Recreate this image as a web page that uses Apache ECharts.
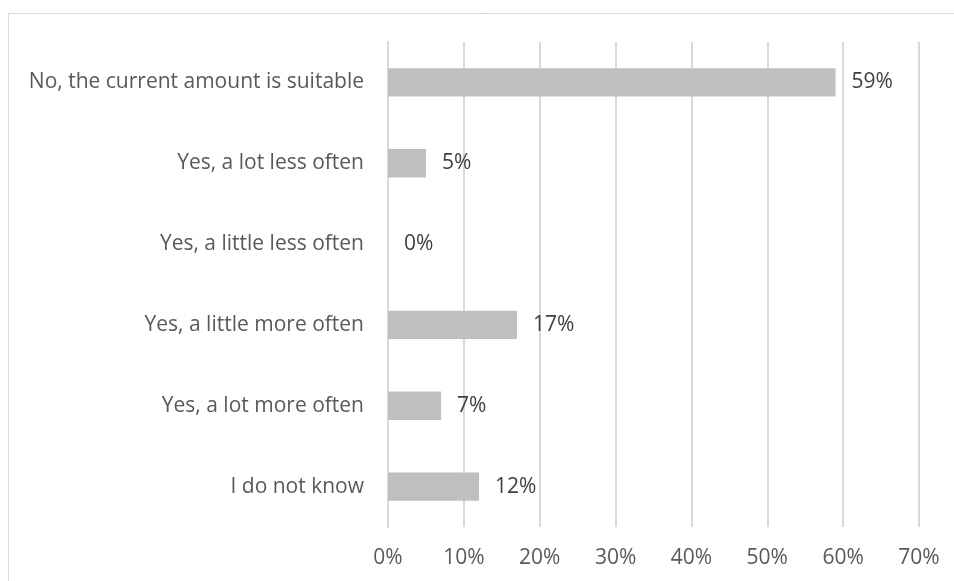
<!DOCTYPE html>
<html>
<head>
<meta charset="utf-8">
<script src="https://cdn.jsdelivr.net/npm/echarts@6/dist/echarts.min.js"></script>
<style>
  html, body { margin: 0; padding: 0; background: #ffffff; }
  #chart { width: 954px; height: 581px; }
</style>
</head>
<body>
<div id="chart"></div>
<script>
// Survey answers, listed top to bottom
const categories = [
  'No, the current amount is suitable',
  'Yes, a lot less often',
  'Yes, a little less often',
  'Yes, a little more often',
  'Yes, a lot more often',
  'I do not know'
];
// Share of respondents per answer (%)
const shares = [59, 5, 0, 17, 7, 12];
// Value axis range (%)
const axisMin = 0;
const axisMax = 70;
const axisStep = 10;

const FONT = '"Open Sans", sans-serif';
const FONT_SIZE = 21;

const chart = echarts.init(document.getElementById('chart'), null, { renderer: 'canvas' });

chart.setOption({
  backgroundColor: '#ffffff',
  animation: false,
  graphic: [{
    type: 'rect',
    shape: { x: 8.5, y: 13.5, width: 1200, height: 1200 },
    style: { fill: 'none', stroke: '#d9d9d9', lineWidth: 1 },
    silent: true,
    z: -10
  }],
  grid: { left: 388, right: 35, top: 42, bottom: 54, containLabel: false },
  xAxis: {
    type: 'value',
    min: axisMin,
    max: axisMax,
    interval: axisStep,
    axisLine: { show: false },
    axisTick: { show: false },
    splitLine: { show: true, lineStyle: { color: '#d9d9d9', width: 2 } },
    axisLabel: {
      formatter: '{value}%',
      color: '#595959',
      fontFamily: FONT,
      fontSize: FONT_SIZE,
      margin: 21
    }
  },
  yAxis: {
    type: 'category',
    data: categories,
    inverse: true,
    axisLine: { show: true, lineStyle: { color: '#d9d9d9', width: 2 } },
    axisTick: { show: false },
    splitLine: { show: false },
    axisLabel: {
      color: '#595959',
      fontFamily: FONT,
      fontSize: FONT_SIZE,
      margin: 24
    }
  },
  series: [{
    type: 'bar',
    data: shares,
    barCategoryGap: '65%',
    itemStyle: { color: '#bfbfbf' },
    label: {
      show: true,
      position: 'right',
      distance: 16,
      formatter: '{c}%',
      color: '#404040',
      fontFamily: FONT,
      fontSize: FONT_SIZE
    }
  }]
});
</script>
</body>
</html>
